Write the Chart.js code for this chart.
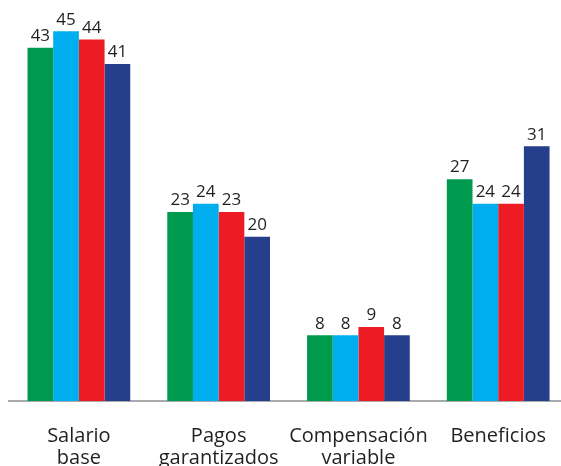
<!DOCTYPE html>
<html><head><meta charset="utf-8">
<script src="https://cdn.jsdelivr.net/npm/chart.js@4/dist/chart.umd.min.js"></script>
<style>html,body{margin:0;padding:0;background:#fff;overflow:hidden;width:561px;height:466px}
#wrap{position:relative;width:570px;height:466px;left:0}</style>
</head><body>
<div id="wrap"><canvas id="c" width="570" height="466"></canvas></div>
<script>
const categories = [["Salario","base"],["Pagos","garantizados"],["Compensación","variable"],["Beneficios"]];
const series1 = [43, 23, 8, 27];
const series2 = [45, 24, 8, 24];
const series3 = [44, 23, 9, 24];
const series4 = [41, 20, 8, 31];
const colors = ["#009a4e", "#00aeef", "#ed1c24", "#263f8c"];
const FONT = "'Open Sans', 'Noto Sans', sans-serif";

const labelPlugin = {
  id: 'valLabels',
  afterDatasetsDraw(chart) {
    const ctx = chart.ctx;
    ctx.save();
    ctx.font = "17px " + FONT;
    ctx.fillStyle = "#231f20";
    ctx.textAlign = "center";
    ctx.textBaseline = "bottom";
    chart.data.datasets.forEach((ds, i) => {
      chart.getDatasetMeta(i).data.forEach((bar, j) => {
        ctx.fillText(String(ds.data[j]), bar.x, bar.y - 3);
      });
    });
    ctx.restore();
  }
};

new Chart(document.getElementById('c'), {
  type: 'bar',
  data: {
    labels: categories,
    datasets: [series1, series2, series3, series4].map((d, i) => ({
      data: d, backgroundColor: colors[i], borderWidth: 0,
      barPercentage: 1.0, categoryPercentage: 0.735
    }))
  },
  options: {
    responsive: false, animation: false,
    layout: { padding: { left: 9, right: 0, top: 0, bottom: 0 } },
    plugins: { legend: { display: false }, tooltip: { enabled: false } },
    scales: {
      x: {
        grid: { display: false, drawTicks: false },
        border: { display: true, color: "#a7a9ac", width: 2 },
        ticks: { color: "#231f20", font: { family: FONT, size: 20, lineHeight: 1.1 }, padding: 24, maxRotation: 0, autoSkip: false },
        afterFit(s) { s.height = 65; }
      },
      y: { display: false, min: 0, max: 48.8 }
    }
  },
  plugins: [labelPlugin]
});
</script>
</body></html>
